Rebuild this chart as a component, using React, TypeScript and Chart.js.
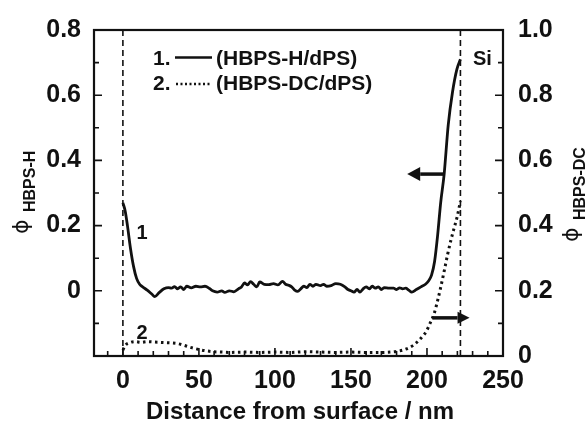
import { useEffect, useRef } from 'react';
import { Chart, registerables } from 'chart.js';

Chart.register(...registerables);

// ---- data ----
const xTickValues = [0, 50, 100, 150, 200, 250];
const leftTickValues = [0, 0.2, 0.4, 0.6, 0.8];
const rightTickValues = [0, 0.2, 0.4, 0.6, 0.8, 1.0];

const hbpsHDepth = [
  0, 1.5, 3, 5, 7, 9, 11, 13, 16, 19, 21, 24, 27, 30, 32, 34, 36, 38, 40, 42, 45, 48, 51, 54, 57, 59,
  62, 65, 67, 70, 73, 76, 78, 80, 82, 84, 86, 88, 90, 93, 96, 99, 102, 105, 107, 109, 111, 113, 115,
  117, 119, 121, 123, 125, 127, 130, 132, 134, 137, 140, 143, 146, 148, 150, 152, 154, 156, 158, 160,
  162, 164, 166, 168, 170, 172, 175, 178, 180, 182, 184, 186, 188, 190, 193, 196, 199, 201, 203, 205,
  207, 209, 211.3, 214, 216.8, 219.7, 222,
];
const hbpsHPhi = [
  0.27, 0.245, 0.2, 0.13, 0.075, 0.038, 0.02, 0.012, 0.002, -0.01, -0.018, -0.005, 0.006, 0.01, 0.008,
  0.013, 0.006, 0.012, 0.004, 0.014, 0.009, 0.014, 0.012, 0.014, 0.007, 0.0, -0.004, 0.0, -0.005, 0.0,
  -0.003, 0.006, 0.012, 0.024, 0.018, 0.028, 0.02, 0.012, 0.027, 0.02, 0.019, 0.022, 0.018, 0.029,
  0.02, 0.017, 0.012, 0.002, -0.002, 0.006, 0.014, 0.01, 0.02, 0.014, 0.02, 0.016, 0.02, 0.014, 0.016,
  0.022, 0.02, 0.012, 0.004, 0.0, -0.004, 0.004, -0.004, 0.006, 0.012, 0.006, 0.014, 0.008, 0.012,
  0.004, 0.01, 0.008, 0.008, 0.004, 0.009, 0.006, 0.008, 0.002, -0.004, 0.004, 0.012, 0.02, 0.03, 0.048,
  0.09, 0.17, 0.27, 0.358, 0.51, 0.61, 0.68, 0.71,
];

const hbpsDCDepth = [
  0, 1.5, 4, 8, 12, 16, 20, 24, 28, 32, 36, 40, 44, 48, 52, 56, 60, 65, 70, 80, 90, 100, 110, 120, 130,
  140, 150, 160, 170, 176, 180, 184, 188, 191, 194, 197, 199.5, 202, 204.7, 207, 209, 211.3, 213.5, 216,
  218, 220, 222,
];
const hbpsDCPhi = [
  0.018, 0.032, 0.04, 0.044, 0.042, 0.044, 0.043, 0.042, 0.041, 0.04, 0.038, 0.033, 0.027, 0.022, 0.018,
  0.015, 0.013, 0.012, 0.011, 0.012, 0.011, 0.012, 0.011, 0.013, 0.012, 0.011, 0.012, 0.011, 0.011,
  0.012, 0.014, 0.018, 0.025, 0.033, 0.045, 0.06, 0.075, 0.1, 0.13, 0.17, 0.21, 0.26, 0.31, 0.36, 0.395,
  0.43, 0.475,
];

const boundaryDepths = [0, 222];
const legendNumbers = ['1.', '2.'];
const legendLabels = ['(HBPS-H/dPS)', '(HBPS-DC/dPS)'];
const curveLabels = ['1', '2'];
// arrows: [tail depth, tip depth, value]
const leftArrow = [211.3, 187, 0.358]; // on left axis
const rightArrow = [203.5, 228, 0.117]; // on right axis

const FONT = "'Liberation Sans', Arial, Helvetica, sans-serif";
const INK = '#111';

function drawArrow(ctx: CanvasRenderingContext2D, x0: number, x1: number, y: number, headLen: number, headHalf: number) {
  const dir = Math.sign(x1 - x0);
  ctx.lineWidth = 3.5;
  ctx.beginPath();
  ctx.moveTo(x0, y);
  ctx.lineTo(x1 - dir * headLen, y);
  ctx.stroke();
  ctx.beginPath();
  ctx.moveTo(x1, y);
  ctx.lineTo(x1 - dir * headLen, y - headHalf);
  ctx.lineTo(x1 - dir * headLen, y + headHalf);
  ctx.closePath();
  ctx.fill();
}

const decor = {
  id: 'decor',
  afterDatasetsDraw(chart: any) {
    const { ctx, chartArea: a, scales } = chart;
    const sx = scales.x, yl = scales.y, yr = scales.y1;
    ctx.save();
    ctx.strokeStyle = INK;
    ctx.fillStyle = INK;
    ctx.setLineDash([]);
    // frame
    ctx.lineWidth = 2.2;
    ctx.strokeRect(a.left, a.top, a.right - a.left, a.bottom - a.top);
    // inward ticks
    ctx.lineWidth = 1.6;
    ctx.beginPath();
    for (let v = -10; v <= 240; v += 10) {
      const px = sx.getPixelForValue(v);
      const len = v % 50 === 0 ? 8 : 5;
      ctx.moveTo(px, a.bottom);
      ctx.lineTo(px, a.bottom - len);
    }
    for (let k = -1; k <= 7; k++) {
      const py = yl.getPixelForValue(k / 10);
      const len = k % 2 === 0 ? 8 : 5;
      ctx.moveTo(a.left, py);
      ctx.lineTo(a.left + len, py);
    }
    for (let k = 1; k <= 9; k++) {
      const py = yr.getPixelForValue(k / 10);
      const len = k % 2 === 0 ? 8 : 5;
      ctx.moveTo(a.right, py);
      ctx.lineTo(a.right - len, py);
    }
    ctx.stroke();

    // arrows
    drawArrow(ctx, sx.getPixelForValue(leftArrow[0]), sx.getPixelForValue(leftArrow[1]), yl.getPixelForValue(leftArrow[2]), 13, 7);
    drawArrow(ctx, sx.getPixelForValue(rightArrow[0]), sx.getPixelForValue(rightArrow[1]), yr.getPixelForValue(rightArrow[2]), 12, 6);

    // legend
    ctx.font = `bold 21px ${FONT}`;
    ctx.textAlign = 'left';
    ctx.textBaseline = 'alphabetic';
    ctx.fillText(legendNumbers[0], 153, 65);
    ctx.fillText(legendLabels[0], 216, 65);
    ctx.fillText(legendNumbers[1], 153, 90);
    ctx.fillText(legendLabels[1], 216, 90);
    ctx.lineWidth = 2.5;
    ctx.beginPath();
    ctx.moveTo(175, 57.5);
    ctx.lineTo(212, 57.5);
    ctx.stroke();
    ctx.lineWidth = 2.4;
    ctx.setLineDash([2, 2.5]);
    ctx.beginPath();
    ctx.moveTo(176, 84);
    ctx.lineTo(212, 84);
    ctx.stroke();
    ctx.setLineDash([]);

    // annotations
    ctx.font = `bold 20px ${FONT}`;
    ctx.fillText('Si', 473, 65);
    ctx.textAlign = 'center';
    ctx.fillText(curveLabels[0], 142, 239);
    ctx.fillText(curveLabels[1], 142, 339);

    // x title
    ctx.font = `bold 24px ${FONT}`;
    ctx.fillText('Distance from surface / nm', 300, 419);

    // y titles (rotated)
    const yTitle = (bx: number, by: number, sub: string) => {
      ctx.save();
      ctx.translate(bx, by);
      ctx.rotate(-Math.PI / 2);
      ctx.textAlign = 'left';
      ctx.font = `22px 'DejaVu Sans', ${FONT}`;
      ctx.fillText('\u03D5', 0, 0);
      ctx.font = `bold 16px ${FONT}`;
      ctx.fillText(sub, 22, 7);
      ctx.restore();
    };
    yTitle(28, 234, 'HBPS-H');
    yTitle(578, 242, 'HBPS-DC');
    ctx.restore();
  },
};

const tickFont = { family: FONT, size: 25, weight: 'bold' as const };

export default function App() {
  const ref = useRef<HTMLCanvasElement>(null);
  useEffect(() => {
    const canvas = ref.current;
    if (!canvas) return;
    const chart = new Chart(canvas, {
      type: 'line',
      data: {
        datasets: [
          {
            label: legendLabels[0],
            data: hbpsHDepth.map((x, i) => ({ x, y: hbpsHPhi[i] })),
            yAxisID: 'y',
            borderColor: INK,
            borderWidth: 2.8,
            pointRadius: 0,
            cubicInterpolationMode: 'monotone',
            fill: false,
          },
          {
            label: legendLabels[1],
            data: hbpsDCDepth.map((x, i) => ({ x, y: hbpsDCPhi[i] })),
            yAxisID: 'y1',
            borderColor: INK,
            borderWidth: 3,
            borderDash: [2.5, 3.5],
            pointRadius: 0,
            cubicInterpolationMode: 'monotone',
            fill: false,
          },
          ...boundaryDepths.map((d) => ({
            label: 'boundary',
            data: [
              { x: d, y: 0 },
              { x: d, y: 1 },
            ],
            yAxisID: 'y1',
            borderColor: INK,
            borderWidth: 1.6,
            borderDash: [6, 4],
            pointRadius: 0,
            fill: false,
          })),
        ],
      } as any,
      options: {
        animation: false,
        responsive: false,
        devicePixelRatio: 1,
        layout: { padding: { top: 23, left: 0, right: 0, bottom: 0 } },
        plugins: { legend: { display: false }, tooltip: { enabled: false } },
        scales: {
          x: {
            type: 'linear',
            min: -19,
            max: 250,
            afterFit: (s: any) => {
              s.height = 68;
            },
            afterBuildTicks: (s: any) => {
              s.ticks = xTickValues.map((v) => ({ value: v }));
            },
            ticks: {
              font: tickFont,
              color: INK,
              padding: 10,
              maxRotation: 0,
              autoSkip: false,
              callback: (v: any) => String(v),
            },
            grid: { display: false, drawTicks: false },
            border: { display: false },
          },
          y: {
            type: 'linear',
            position: 'left',
            min: -0.2,
            max: 0.8,
            afterFit: (s: any) => {
              s.width = 94;
            },
            afterBuildTicks: (s: any) => {
              s.ticks = leftTickValues.map((v) => ({ value: v }));
            },
            ticks: {
              font: tickFont,
              color: INK,
              padding: 13,
              autoSkip: false,
              callback: (v: any) => (Number(v) === 0 ? '0' : Number(v).toFixed(1)),
            },
            grid: { display: false, drawTicks: false },
            border: { display: false },
          },
          y1: {
            type: 'linear',
            position: 'right',
            min: 0,
            max: 1,
            afterFit: (s: any) => {
              s.width = 82;
            },
            afterBuildTicks: (s: any) => {
              s.ticks = rightTickValues.map((v) => ({ value: v }));
            },
            ticks: {
              font: tickFont,
              color: INK,
              padding: 15,
              autoSkip: false,
              callback: (v: any) => (Number(v) === 0 ? '0' : Number(v).toFixed(1)),
            },
            grid: { display: false, drawTicks: false },
            border: { display: false },
          },
        },
      } as any,
      plugins: [decor],
    });
    return () => chart.destroy();
  }, []);
  return (
    <div style={{ position: 'fixed', left: 0, top: 0, width: 585, height: 424, background: '#fff' }}>
      <canvas ref={ref} width={585} height={424} style={{ display: 'block', width: 585, height: 424 }} />
    </div>
  );
}
